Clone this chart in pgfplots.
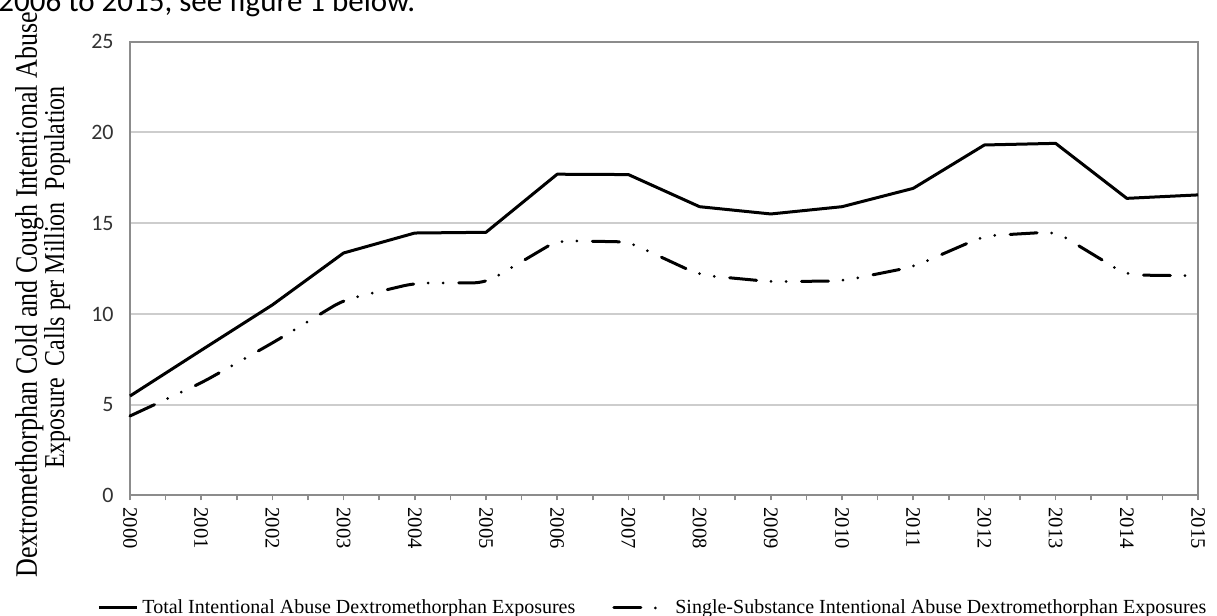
\documentclass[border=0pt]{standalone}
\usepackage{fontspec}
\setmainfont{Liberation Serif}
\newfontfamily\calib{Carlito}
\usepackage{pgfplots}
\usepackage{pgfplotstable}
\pgfplotsset{compat=1.18}

\definecolor{axisgray}{RGB}{140,140,140}
\definecolor{gridgray}{RGB}{205,205,205}
\definecolor{labgray}{RGB}{50,50,50}

\pgfplotsset{
  legA/.style={legend image code/.code={\draw[##1] (0pt,0pt) -- (19pt,0pt);}},
  legB/.style={legend image code/.code={\draw[##1] (0pt,0pt) -- (28pt,0pt);}},
}

\pgfplotstableread{
year total single
2000 5.48 4.38
2001 8.0 6.2
2002 10.5 8.4
2003 13.36 10.77
2004 14.46 11.7
2005 14.5 11.72
2006 17.7 14.04
2007 17.68 13.97
2008 15.91 12.15
2009 15.51 11.78
2010 15.91 11.82
2011 16.92 12.6
2012 19.31 14.3
2013 19.4 14.53
2014 16.37 12.15
2015 16.56 12.1
}\datatab

\begin{document}
\begin{tikzpicture}
\useasboundingbox (0,0) rectangle (608.5pt,308pt);
\clip (0,0) rectangle (608.5pt,308pt);
\node[anchor=base west, inner sep=0pt, font=\fontsize{15.5}{15.5}\calib] at (-1pt,302.3pt) {2006 to 2015, see figure 1 below.};
\begin{axis}[
  scale only axis, width=534pt, height=226.9pt,
  at={(65pt,60.25pt)}, anchor=south west,
  xmin=2000, xmax=2015, ymin=0, ymax=25,
  xtick={2000,2001,2002,2003,2004,2005,2006,2007,2008,2009,2010,2011,2012,2013,2014,2015},
  xticklabels={2000,2001,2002,2003,2004,2005,2006,2007,2008,2009,2010,2011,2012,2013,2014,2015},
  minor x tick num=1,
  xtick pos=bottom, ytick pos=left,
  ytick={0,5,10,15,20,25},
  ymajorgrids,
  major grid style={draw=gridgray, line width=1pt},
  axis line style={draw=axisgray, line width=1pt},
  tick align=outside,
  major tick length=2.5pt, minor tick length=2.5pt,
  xtick style={draw=axisgray, line width=0.8pt},
  minor tick style={draw=axisgray, line width=0.8pt},
  ytick style={draw=none},
  xticklabel style={rotate=-90, anchor=west, font=\fontsize{10.3}{10.3}\selectfont, text=black},
  yticklabel style={font=\fontsize{11}{11}\calib, text=labgray, anchor=east, inner sep=0pt, xshift=-5.5pt},
  /pgf/number format/assume math mode=true,
  clip=false,
  legend columns=2,
  legend style={draw=none, fill=none, inner sep=0pt, outer sep=0pt,
    at={(-0.0305,-0.2479)}, anchor=west,
    font=\fontsize{10}{10}\selectfont,
    nodes={inner sep=0pt},
    /tikz/every odd column/.append style={column sep=2pt},
    /tikz/every even column/.append style={column sep=18.5pt}},
]
\addplot[black, line width=1.5pt, line join=round, legA]
  table[x=year, y=total] {\datatab};
\addlegendentry{Total Intentional Abuse Dextromethorphan Exposures}
\addplot[black, line width=1.5pt, line cap=round, line join=round, rounded corners=6pt,
  dash pattern=on 13.5pt off 7.25pt on 0pt off 7.5pt on 0pt off 7.75pt, legB]
  table[x=year, y=single] {\datatab};
\addlegendentry{Single-Substance Intentional Abuse Dextromethorphan Exposures}
\end{axis}
\node[rotate=90, anchor=base, inner sep=0pt, font=\fontsize{13}{13}\selectfont] at (18.5pt,160.5pt)
  {\scalebox{1}[1.2]{Dextromethorphan Cold and Cough Intentional Abuse}};
\node[rotate=90, anchor=base, inner sep=0pt, font=\fontsize{12}{12}\selectfont] at (32pt,169.25pt)
  {\scalebox{1}[1.2]{Exposure\ \ Calls per Million\ \ Population}};
\end{tikzpicture}
\end{document}
